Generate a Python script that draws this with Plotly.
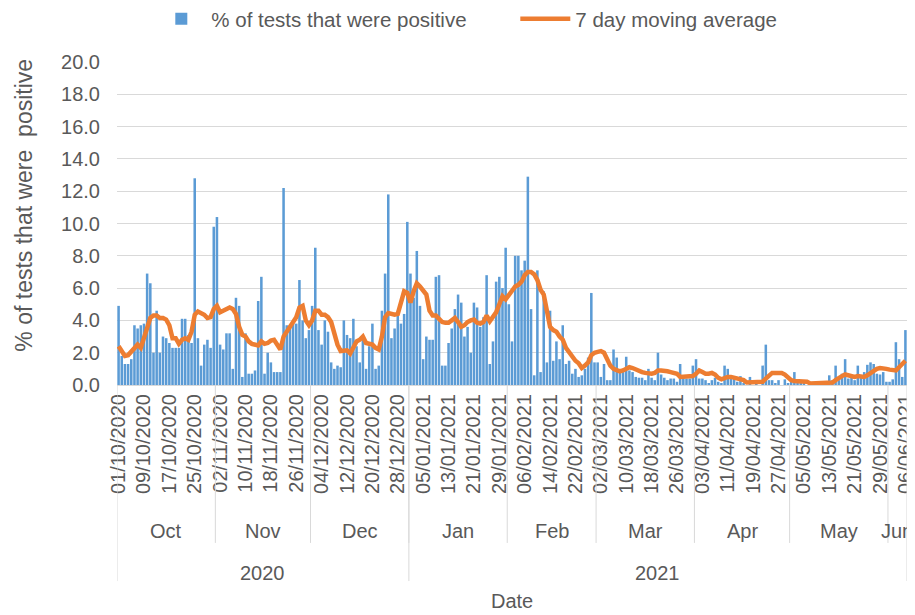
import pandas as pd
import plotly.graph_objects as go

# ---- data -------------------------------------------------------------
start_date = "2020-10-01"
end_date = "2021-06-06"
dates = pd.date_range(start_date, end_date, freq="D")
date_labels = [d.strftime("%d/%m/%Y") for d in dates]
month_names = ["Oct", "Nov", "Dec", "Jan", "Feb", "Mar", "Apr", "May", "Jun"]
year_names = ["2020", "2021"]
tick_every = 8

pct_positive = [
    4.9, 1.8, 1.3, 1.3, 1.6, 3.7, 3.5, 3.7, 3.8, 6.9,
    6.3, 2.0, 4.6, 2.0, 3.0, 2.9, 2.6, 2.3, 2.3, 2.3,
    4.1, 4.1, 3.1, 2.6, 12.8, 2.9, 1.2, 2.5, 2.8, 2.3,
    9.8, 10.4, 2.5, 2.2, 3.2, 3.2, 1.0, 5.4, 4.9, 0.5,
    3.2, 0.7, 0.7, 0.9, 5.2, 6.7, 0.7, 2.0, 1.4, 0.8,
    0.8, 0.8, 12.2, 3.7, 3.7, 3.8, 3.8, 6.5, 4.0, 2.9,
    3.4, 4.9, 8.5, 3.4, 2.5, 4.0, 3.3, 1.4, 1.0, 1.2,
    1.1, 4.0, 3.1, 2.9, 4.1, 2.4, 1.4, 2.9, 1.0, 2.4,
    3.8, 1.0, 1.2, 4.6, 6.9, 11.8, 2.9, 3.5, 4.6, 3.8,
    4.4, 10.1, 6.9, 5.4, 8.3, 4.9, 1.6, 3.0, 2.8, 2.8,
    6.7, 6.8, 1.2, 1.2, 2.6, 3.5, 4.7, 5.6, 5.1, 3.0,
    3.6, 2.0, 5.1, 4.8, 3.6, 4.2, 6.8, 1.3, 2.7, 6.4,
    6.7, 6.0, 8.5, 5.0, 2.7, 8.0, 8.0, 7.1, 7.7, 12.9,
    4.7, 0.6, 7.1, 0.8, 5.8, 1.4, 4.6, 1.5, 2.7, 1.6,
    3.7, 1.3, 1.5, 0.7, 1.0, 0.5, 0.6, 1.0, 1.7, 5.7,
    1.4, 1.4, 0.5, 1.3, 0.3, 0.3, 2.2, 1.7, 0.8, 0.8,
    1.75, 0.9, 0.8, 0.5, 0.45, 0.45, 0.3, 1.0, 0.45, 0.3,
    2.0, 0.65, 0.45, 0.3, 0.4, 0.4, 0.2, 1.3, 0.55, 0.4,
    0.4, 1.2, 1.6, 0.4, 0.4, 0.3, 0.1, 0.3, 0.45, 0.2,
    0.1, 1.2, 1.0, 0.5, 0.4, 0.2, 0.55, 0.1, 0.0, 0.5,
    0.0, 0.1, 0.0, 1.2, 2.5, 0.3, 0.3, 0.1, 0.3, 0.0,
    0.35, 0.1, 0.2, 0.8, 0.35, 0.1, 0.1, 0.0, 0.0, 0.1,
    0.0, 0.1, 0.0, 0.1, 0.6, 0.3, 1.2, 0.3, 0.7, 1.6,
    0.4, 0.5, 0.3, 1.2, 0.6, 0.8, 1.25, 1.4, 1.3, 0.7,
    0.65, 0.8, 0.2, 0.2, 0.35, 2.65, 1.6, 0.5, 3.4,
]

moving_avg = [
    2.4, 2.15, 1.8, 1.85, 2.05, 2.25, 2.5, 2.3, 2.9, 3.7,
    4.15, 4.3, 4.3, 4.15, 4.15, 4.05, 3.7, 2.9, 2.9, 2.55,
    2.8, 2.9, 2.8, 3.3, 4.35, 4.55, 4.45, 4.35, 4.15, 4.2,
    4.7, 4.9, 4.5, 4.6, 4.7, 4.8, 4.7, 4.4, 3.6, 3.1,
    3.0, 2.7, 2.55, 2.5, 2.45, 2.7, 2.55, 2.6, 2.75, 2.8,
    2.5, 2.2, 3.0, 3.3, 3.6, 3.8, 4.2, 4.8, 4.9, 4.0,
    3.7, 4.0, 4.6, 4.6, 4.35, 4.35, 4.2, 3.9, 3.2, 2.5,
    2.1, 2.1, 2.15, 1.95, 2.4, 2.7, 2.8, 3.0, 2.6, 2.55,
    2.5, 2.3, 2.2, 3.0, 4.2, 4.45, 4.4, 4.35, 4.4, 5.2,
    5.8, 5.7, 5.1, 5.8, 6.3, 6.1, 5.9, 5.6, 4.6, 4.3,
    4.3, 4.1, 3.9, 3.85, 3.85, 4.0, 4.15, 3.9, 3.6, 3.7,
    3.9, 4.0, 4.05, 3.85, 3.8, 3.9, 4.3, 3.95, 4.2, 4.5,
    5.0, 5.5, 5.3, 5.6, 5.9, 6.1, 6.2, 6.4, 6.8, 7.0,
    7.0, 6.85, 6.5, 5.9, 5.6, 4.6, 3.6, 3.4, 3.3, 3.0,
    2.8, 2.3, 2.0, 1.8, 1.5, 1.35, 1.05, 1.2, 1.4, 1.85,
    2.0, 2.05, 2.1, 2.0, 1.6, 1.2, 1.0, 0.95, 0.85, 0.9,
    1.0, 1.1, 1.05, 0.95, 0.9, 0.8, 0.75, 0.7, 0.7, 0.75,
    0.9, 0.9, 0.9, 0.85, 0.8, 0.75, 0.7, 0.5, 0.5, 0.55,
    0.5, 0.55, 0.7, 0.9, 0.8, 0.7, 0.7, 0.75, 0.65, 0.45,
    0.35, 0.45, 0.5, 0.5, 0.45, 0.4, 0.35, 0.3, 0.15, 0.15,
    0.15, 0.15, 0.15, 0.2, 0.4, 0.6, 0.75, 0.75, 0.75, 0.75,
    0.65, 0.45, 0.3, 0.25, 0.25, 0.25, 0.25, 0.2, 0.1, 0.1,
    0.1, 0.1, 0.1, 0.1, 0.1, 0.15, 0.3, 0.45, 0.55, 0.65,
    0.6, 0.55, 0.5, 0.55, 0.55, 0.5, 0.6, 0.75, 0.85, 1.0,
    1.05, 1.05, 1.0, 0.95, 0.9, 0.9, 1.1, 1.3, 1.5,
]

# ---- styles -----------------------------------------------------------
FONT = "Liberation Sans, Arial, sans-serif"
TXT = "#595959"
GRID = "#d9d9d9"
BAR_C = "#5B9BD5"
LINE_C = "#ED7D31"

fig = go.Figure()
fig.add_trace(go.Bar(x=date_labels, y=pct_positive, name="% of tests that were positive",
                     marker=dict(color=BAR_C, line=dict(width=0))))
fig.add_trace(go.Scatter(x=date_labels, y=moving_avg, name="7 day moving average",
                         mode="lines", line=dict(color=LINE_C, width=4.5)))

# month / year groups (multi-level category axis)
ym = [(d.year, d.month) for d in dates]
groups = []
for i, key in enumerate(ym):
    if not groups or groups[-1][0] != key:
        groups.append([key, i, i])
    else:
        groups[-1][2] = i
years = []
for i, d in enumerate(dates):
    if not years or years[-1][0] != d.year:
        years.append([d.year, i, i])
    else:
        years[-1][2] = i

annotations = []
shapes = []
for (key, a, b), name in zip(groups, month_names):
    annotations.append(dict(x=(a + b) / 2, y=-0.452, xref="x", yref="paper", text=name,
                            showarrow=False, font=dict(size=20, color=TXT, family=FONT),
                            xanchor="center", yanchor="middle"))
    if a > 0:
        shapes.append(dict(type="line", xref="x", yref="paper", x0=a - 0.5, x1=a - 0.5,
                           y0=0, y1=-0.489, line=dict(color=GRID, width=1)))
for (yr, a, b), name in zip(years, year_names):
    annotations.append(dict(x=(a + b) / 2, y=-0.582, xref="x", yref="paper", text=name,
                            showarrow=False, font=dict(size=20, color=TXT, family=FONT),
                            xanchor="center", yanchor="middle"))
    shapes.append(dict(type="line", xref="x", yref="paper", x0=a - 0.5, x1=a - 0.5,
                       y0=0, y1=-0.607, line=dict(color=GRID, width=1)))
shapes.append(dict(type="line", xref="x", yref="paper", x0=len(dates) - 0.5, x1=len(dates) - 0.5,
                   y0=0, y1=-0.607, line=dict(color=GRID, width=1)))

annotations.append(dict(x=0.5, y=-0.669, xref="paper", yref="paper", text="Date",
                        showarrow=False, font=dict(size=20, color=TXT, family=FONT),
                        xanchor="center", yanchor="middle"))
annotations.append(dict(x=-0.117, y=0.557, xref="paper", yref="paper",
                        text="% of tests that were\u00a0 positive", textangle=-90,
                        showarrow=False, font=dict(size=23, color=TXT, family=FONT),
                        xanchor="center", yanchor="middle"))

tickvals = date_labels[::tick_every]

# the page body has an 8px margin, so the figure is drawn 8px smaller
fig.update_layout(
    width=907, height=607,
    margin=dict(l=109, r=8, t=54, b=230, autoexpand=False),
    paper_bgcolor="white", plot_bgcolor="white",
    font=dict(family=FONT, color=TXT),
    bargap=0.2,
    showlegend=True,
    legend=dict(orientation="h", xref="container", yref="container",
                x=0.158, xanchor="left", y=0.982, yanchor="middle",
                font=dict(size=20.5, color=TXT, family=FONT), itemwidth=50,
                entrywidth=299, entrywidthmode="pixels"),
    xaxis=dict(type="category", tickmode="array", tickvals=tickvals, ticktext=tickvals,
               tickangle=-90, tickfont=dict(size=20, color=TXT, family=FONT),
               showgrid=False, showline=True, linecolor=GRID, linewidth=1,
               ticks="", range=[-0.5, len(dates) - 0.5], automargin=False),
    yaxis=dict(range=[0, 20], dtick=2, tickformat=".1f", showgrid=True, gridcolor=GRID,
               gridwidth=1, zeroline=False, showline=False, automargin=False,
               tickfont=dict(size=20, color=TXT, family=FONT), ticklabelstandoff=16),
    annotations=annotations,
    shapes=shapes,
)

fig.write_html("out.html")
